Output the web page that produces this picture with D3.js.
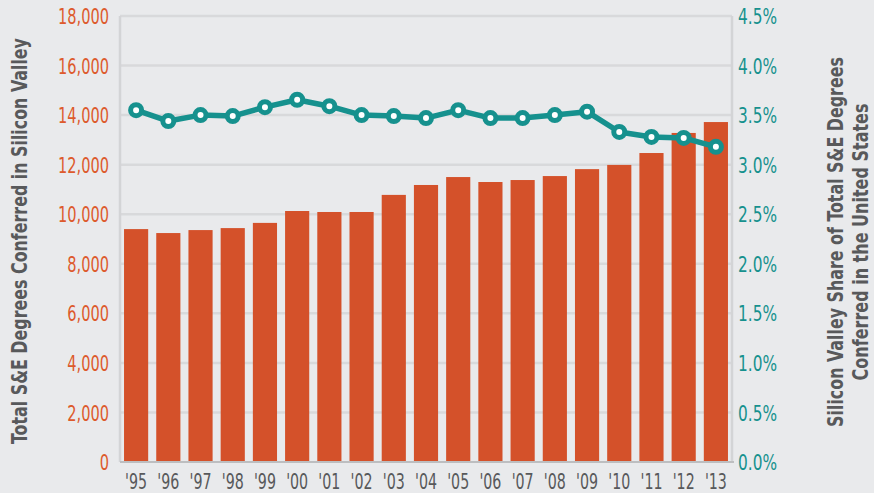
<!DOCTYPE html>
<html>
<head>
<meta charset="utf-8">
<script src="https://cdn.jsdelivr.net/npm/d3@7"></script>
<style>
  html, body { margin: 0; padding: 0; background: #e9eaec; }
  svg { display: block; }
  text { font-family: "DejaVu Sans Condensed", "DejaVu Sans", sans-serif; font-stretch: condensed; }
</style>
</head>
<body>
<svg id="chart"></svg>
<script>
const years = ["'95", "'96", "'97", "'98", "'99", "'00", "'01", "'02", "'03", "'04",
               "'05", "'06", "'07", "'08", "'09", "'10", "'11", "'12", "'13"];
const degrees = [9400, 9240, 9360, 9440, 9650, 10130, 10090, 10090, 10780, 11180,
                 11500, 11300, 11380, 11540, 11820, 11990, 12470, 13280, 13720];
const share = [3.55, 3.44, 3.50, 3.49, 3.58, 3.655, 3.59, 3.50, 3.49, 3.47,
               3.55, 3.47, 3.47, 3.50, 3.535, 3.33, 3.28, 3.27, 3.18];
const leftTicks = [0, 2000, 4000, 6000, 8000, 10000, 12000, 14000, 16000, 18000];
const rightTicks = [0, 0.5, 1.0, 1.5, 2.0, 2.5, 3.0, 3.5, 4.0, 4.5];

const width = 874;
const height = 493;
const margin = { top: 16, right: 142, bottom: 31, left: 120 };

const orange = '#d4512a';
const orangeText = '#dd5a2c';
const teal = '#16918e';
const gray = '#58595b';

const svg = d3.select('#chart')
  .attr('width', width)
  .attr('height', height);

// squeeze text horizontally to mimic the narrow face of the original
function squeeze(sel, factor) {
  sel.each(function () {
    const w = this.getComputedTextLength();
    d3.select(this)
      .attr('textLength', w * factor)
      .attr('lengthAdjust', 'spacingAndGlyphs');
  });
}

// rotated title, scaled along its length to a given size
function title(str, cx, cy, len) {
  const t = svg.append('text')
    .attr('text-anchor', 'middle')
    .style('font-size', '22px')
    .style('font-weight', 'bold')
    .style('fill', gray)
    .text(str);
  const k = len / t.node().getComputedTextLength();
  t.attr('transform', `translate(${cx},${cy}) rotate(-90) scale(${k},1)`);
  return t;
}

const x = d3.scaleBand()
  .domain(years)
  .range([margin.left, width - margin.right])
  .paddingInner(0.25)
  .paddingOuter(0.125);

const y = d3.scaleLinear()
  .domain([0, 18000])
  .range([height - margin.bottom, margin.top]);

const y2 = d3.scaleLinear()
  .domain([0, 4.5])
  .range([height - margin.bottom, margin.top]);

// gridlines
svg.append('g')
  .selectAll('line')
  .data(leftTicks.filter(d => d > 0))
  .enter()
  .append('line')
  .attr('x1', margin.left)
  .attr('x2', width - margin.right)
  .attr('y1', d => y(d))
  .attr('y2', d => y(d))
  .style('stroke', '#d8d9db')
  .style('stroke-width', 2.5);

// side frame lines
svg.append('g')
  .selectAll('line')
  .data([margin.left, width - margin.right])
  .enter()
  .append('line')
  .attr('x1', d => d)
  .attr('x2', d => d)
  .attr('y1', margin.top)
  .attr('y2', height - margin.bottom)
  .style('stroke', '#d3d4d6')
  .style('stroke-width', 2.5);

// bars
svg.append('g')
  .selectAll('rect')
  .data(degrees)
  .enter()
  .append('rect')
  .attr('x', (d, i) => x(years[i]))
  .attr('width', x.bandwidth())
  .attr('y', d => y(d))
  .attr('height', d => y(0) - y(d))
  .style('fill', orange);

// baseline
svg.append('line')
  .attr('x1', margin.left)
  .attr('x2', width - margin.right + 2)
  .attr('y1', y(0))
  .attr('y2', y(0))
  .style('stroke', '#bdbec0')
  .style('stroke-width', 2);

// left axis
const leftAxis = svg.append('g')
  .attr('transform', `translate(${margin.left - 11},0)`)
  .call(d3.axisLeft(y).tickValues(leftTicks).tickSize(0).tickPadding(0).tickFormat(d3.format(',')));
leftAxis.select('.domain').remove();
const leftLabels = leftAxis.selectAll('text')
  .attr('dy', '0.36em')
  .style('font-size', '21px')
  .style('fill', orangeText);
squeeze(leftLabels, 51 / leftLabels.filter(d => d === 18000).node().getComputedTextLength());

// right axis
const rightAxis = svg.append('g')
  .attr('transform', `translate(${width - margin.right + 6},0)`)
  .call(d3.axisRight(y2).tickValues(rightTicks).tickSize(0).tickPadding(0).tickFormat(d => d.toFixed(1) + '%'));
rightAxis.select('.domain').remove();
const rightLabels = rightAxis.selectAll('text')
  .attr('dy', '0.36em')
  .style('font-size', '21px')
  .style('fill', teal);
squeeze(rightLabels, 39 / rightLabels.filter(d => d === 4.5).node().getComputedTextLength());

// bottom axis
const bottomAxis = svg.append('g')
  .attr('transform', `translate(0,${height - margin.bottom})`)
  .call(d3.axisBottom(x).tickSize(0).tickPadding(0));
bottomAxis.select('.domain').remove();
const bottomLabels = bottomAxis.selectAll('text')
  .attr('y', 27)
  .attr('dy', 0)
  .style('font-size', '21px')
  .style('fill', gray);
squeeze(bottomLabels, 22 / bottomLabels.filter(d => d === "'95").node().getComputedTextLength());

// share line
const line = d3.line()
  .x((d, i) => x(years[i]) + x.bandwidth() / 2)
  .y(d => y2(d));

svg.append('path')
  .datum(share)
  .attr('d', line)
  .style('fill', 'none')
  .style('stroke', teal)
  .style('stroke-width', 5.5)
  .style('stroke-linejoin', 'round');

svg.append('g')
  .selectAll('circle')
  .data(share)
  .enter()
  .append('circle')
  .attr('cx', (d, i) => x(years[i]) + x.bandwidth() / 2)
  .attr('cy', d => y2(d))
  .attr('r', 5.5)
  .style('fill', '#ffffff')
  .style('stroke', teal)
  .style('stroke-width', 5);

// axis titles
title('Total S&E Degrees Conferred in Silicon Valley', 27, 241, 406);
title('Silicon Valley Share of Total S&E Degrees', 843, 242, 370);
title('Conferred in the United States', 868, 242, 277);
</script>
</body>
</html>
